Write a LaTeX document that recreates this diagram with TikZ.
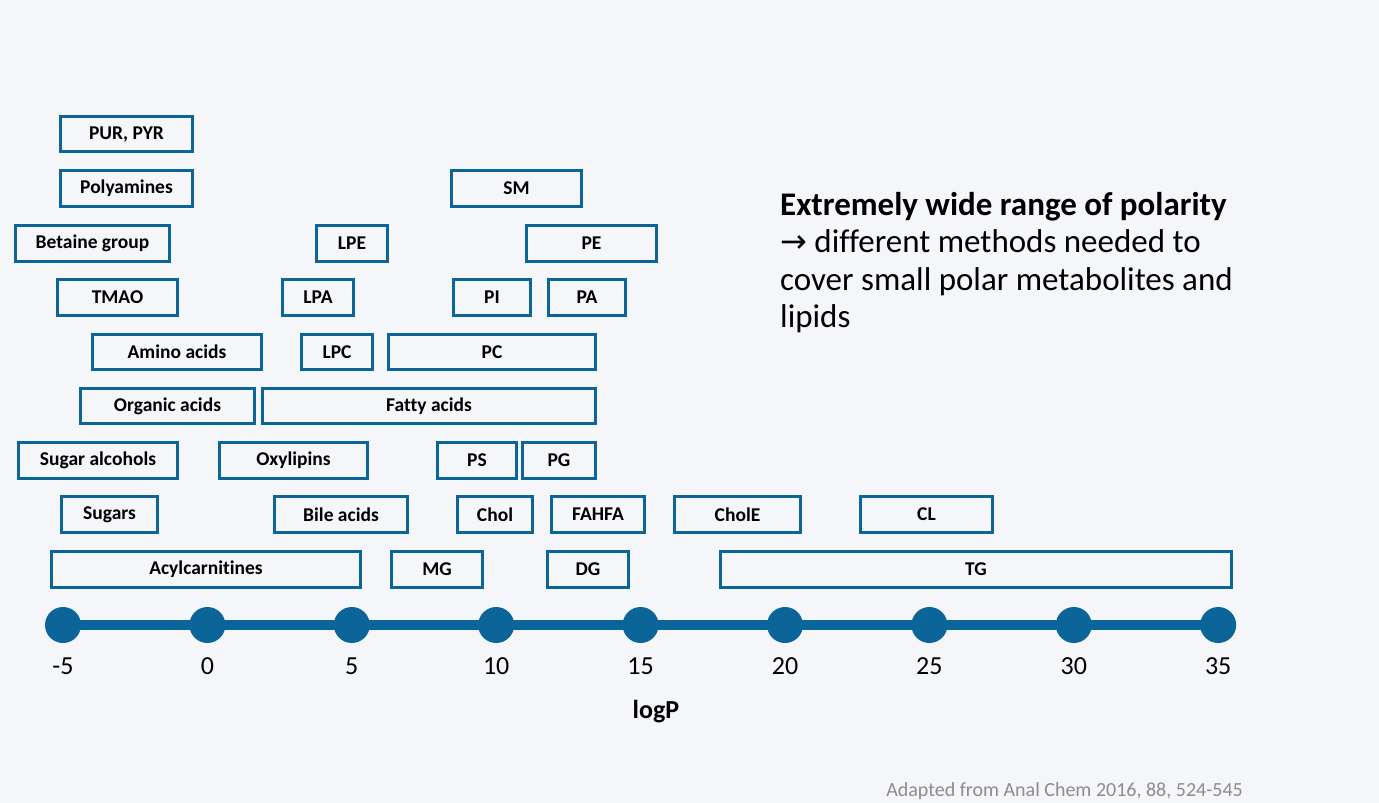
\documentclass[tikz,border=0pt]{standalone}
\usepackage{fontspec}
\setmainfont[Ligatures=NoCommon]{Carlito}
\newfontfamily\arrowfont{DejaVu Sans}
\usetikzlibrary{positioning}
\definecolor{axisblue}{RGB}{12,101,153}
\definecolor{bgpale}{RGB}{245,246,249}
\definecolor{notegray}{RGB}{140,140,140}
\tikzset{
  lipidbox/.style={draw=axisblue, line width=3pt, inner sep=0pt,
    font=\fontsize{19.5}{22}\selectfont\bfseries},
  tickdot/.style={circle, fill=axisblue, minimum size=36pt, inner sep=0pt},
  axisln/.style={axisblue, line width=10pt},
  ticklab/.style={font=\fontsize{26}{30}\selectfont},
}
\begin{document}
\begin{tikzpicture}[x=1pt, y=-1pt]
    \useasboundingbox (0,0) rectangle (1379,803);
    \fill[bgpale] (0,0) rectangle (1379,803);
    % compound classes, x1/y1/x2/y2 in picture units
    \foreach \nm/\xa/\ya/\xb/\yb/\lab in {
        pur/59/114/194/152/{PUR, PYR},
        polyam/59/168/194/207/{Polyamines},
        sm/450/168/583/207/{SM},
        betaine/14/223/171/262/{Betaine group},
        lpe/315/223/389/262/{LPE},
        pe/525/223/658/262/{PE},
        tmao/56/277/179/316/{TMAO},
        lpa/281/277/355/316/{LPA},
        pi/452/277/532/316/{PI},
        pa/547/277/627/316/{PA},
        amino/91/332/263/370/{Amino acids},
        lpc/300/332/374/370/{LPC},
        pc/387/332/597/370/{PC},
        organic/79/386/256/424/{Organic acids},
        fatty/261/386/597/424/{Fatty acids},
        sugalc/17/440/179/479/{Sugar alcohols},
        oxylip/218/440/369/479/{Oxylipins},
        ps/436/440/518/479/{PS},
        pg/521/440/597/479/{PG},
        sugars/60/494/159/533/{Sugars},
        bile/273/494/409/533/{Bile acids},
        chol/456/494/534/533/{Chol},
        fahfa/550/494/646/533/{FAHFA},
        chole/673/494/802/533/{CholE},
        cl/859/494/994/533/{CL},
        acyl/50/549/362/588/{Acylcarnitines},
        mg/390/549/484/588/{MG},
        dg/546/549/630/588/{DG},
        tg/719/549/1233/588/{TG}} {
      \node[lipidbox, minimum width={\xb-\xa-3}, minimum height={\yb-\ya-3}]
        (\nm) at ({(\xa+\xb)/2},{(\ya+\yb)/2+1}) {\lab};
    }
    % logP axis
    \foreach \i/\v in {0/-5, 1/0, 2/5, 3/10, 4/15, 5/20, 6/25, 7/30, 8/35} {
      \node[tickdot] (d\i) at ({63+144.4*\i},625) {};
      \node[ticklab] (t\i) at ({63+144.4*\i},666) {\v};
    }
    \draw[axisln] (d0.center) -- (d8.center);
    \node[font=\fontsize{26}{30}\selectfont\bfseries] (logp) at (656,712) {logP};
    \node[anchor=north west, align=left, inner sep=0pt,
      font=\fontsize{33}{37.5}\selectfont] (note) at (780,192)
      {\textbf{Extremely wide range of polarity}\\
       {\arrowfont\fontsize{32}{37.5}\selectfont→} different methods needed to\\
       cover small polar metabolites and\\
       lipids};
    \node[anchor=base east, inner sep=0pt, text=notegray,
      font=\fontsize{20}{24}\selectfont] (src) at (1243,796)
      {Adapted from Anal Chem 2016, 88, 524-545};
  \end{tikzpicture}
\end{document}
